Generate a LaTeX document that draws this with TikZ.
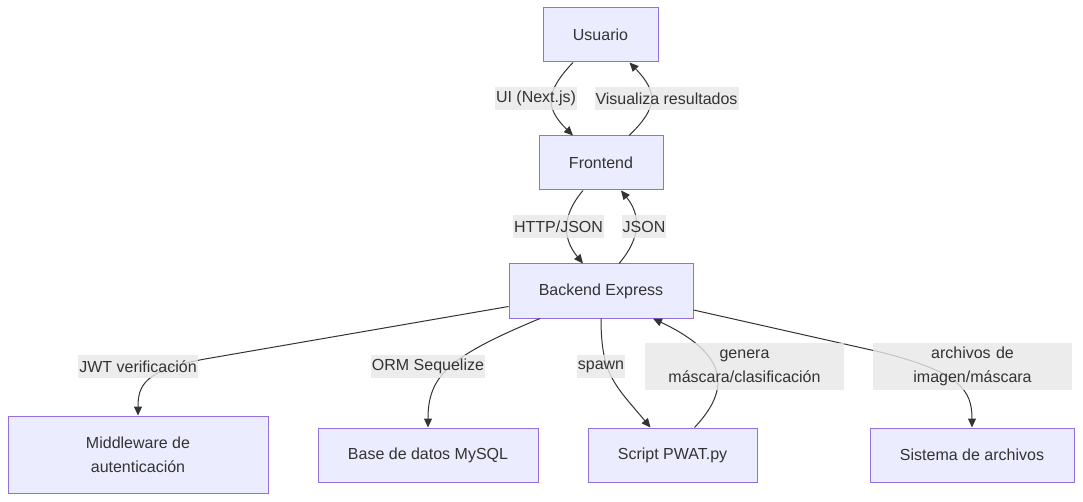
\documentclass[tikz,border=0pt]{standalone}
\usepackage{fontspec}
\setmainfont{Liberation Sans}
\usetikzlibrary{arrows.meta,calc}
\definecolor{nodefill}{HTML}{ECECFF}
\definecolor{nodeline}{HTML}{9370DB}
\definecolor{ink}{HTML}{333333}
\definecolor{lblbg}{HTML}{E8E8E8}
\begin{document}
\begin{tikzpicture}[x=1pt,y=-1pt,
  box/.style={draw=nodeline, fill=nodefill, line width=1pt, text=ink, inner sep=0pt,
    font=\fontsize{16}{24}\selectfont, align=center},
  lbl/.style={fill=lblbg, fill opacity=0.8, text opacity=1, text=ink, inner xsep=1pt,
    inner ysep=0pt, minimum height=23pt, font=\fontsize{16}{24}\selectfont, align=center},
  lbltwo/.style={lbl, text width=197pt, minimum height=47pt},
  conn/.style={draw=ink, line width=1pt, -{Triangle[length=9pt,width=8pt]}}]
\useasboundingbox (0,0) rectangle (1083,502);
\fill[white] (0,0) rectangle (1083,502);
% nodes
\node[box, minimum width=115pt, minimum height=54pt] (u) at (600.5,35) {Usuario};
\node[box, minimum width=124pt, minimum height=54pt] (f) at (601,163) {Frontend};
\node[box, minimum width=184pt, minimum height=54pt] (b) at (601,291) {Backend Express};
\node[box, minimum width=260pt, minimum height=77pt] (m) at (138,454.5) {Middleware de\\autenticación};
\node[box, minimum width=220pt, minimum height=54pt] (d) at (428,455) {Base de datos MySQL};
\node[box, minimum width=169pt, minimum height=54pt] (s) at (672.5,455) {Script PWAT.py};
\node[box, minimum width=204pt, minimum height=54pt] (k) at (972,455) {Sistema de archivos};
% connectors
\draw[conn] ($(u.south)+(-27.5,0)$) .. controls (545,92) and (545,108) .. ($(f.north)+(-28,0)$);
\draw[conn] ($(f.north)+(28,0)$) .. controls (658,108) and (658,92) .. ($(u.south)+(29,0)$);
\draw[conn] ($(f.south)+(-18,0)$) .. controls (562,215) and (562,238) .. ($(b.north)+(-18,0)$);
\draw[conn] ($(b.north)+(18,0)$) .. controls (641,238) and (641,215) .. ($(f.south)+(20,0)$);
\draw[conn] ($(b.south west)+(0,-12)$) -- (205,359) .. controls (145,370) and (138,385) .. (m.north);
\draw[conn] ($(b.south)+(-61,0)$) .. controls (450,356) and (428,375) .. (d.north);
\draw[conn] (b.south) .. controls (601,375) and (615,385) .. ($(s.north)+(-22,0)$);
\draw[conn] ($(s.north)+(22,0)$) .. controls (730,390) and (730,355) .. ($(b.south)+(52,0)$);
\draw[conn] ($(b.east)+(0,19)$) -- (880,352) .. controls (960,372) and (972,390) .. (k.north);
% labels
\node[lbl] (l1) at (536,98.5) {UI (Next.js)};
\node[lbl] (l2) at (666.5,98.5) {Visualiza resultados};
\node[lbl] (l3) at (558.5,226.5) {HTTP/JSON};
\node[lbl] (l4) at (644,226.5) {JSON};
\node[lbl] (l5) at (138,366.5) {JWT verificación};
\node[lbl] (l6) at (428,366.5) {ORM Sequelize};
\node[lbl] (l7) at (601,366.5) {spawn};
\node[lbltwo] (l8) at (744.5,366.5) {genera\\máscara/clasificación};
\node[lbltwo] (l9) at (972.5,366.5) {archivos de\\imagen/máscara};
\end{tikzpicture}
\end{document}
